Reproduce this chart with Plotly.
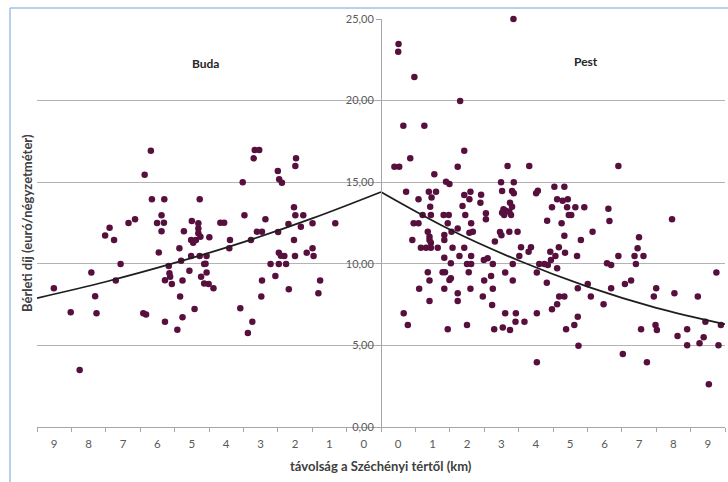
import plotly.graph_objects as go

# Buda side (negative axis positions), rent in euro/m2
buda_x = [-6.69, -6.87, -6.66, -7.34, -7.15, -7.89, -8.02, -7.76, -6.51, -6.46,
          -7.57, -8.42, -7.71, -9.51, -8.31, -9.02, -8.27, -6.91, -6.83, -8.76,
          -3.67, -3.54, -3.70, -4.02, -6.30, -5.27, -6.38, -6.31, -6.38, -5.73,
          -5.50, -5.31, -5.31, -5.31, -5.25, -5.52, -5.46, -5.38, -4.99, -4.67,
          -4.56, -4.39, -4.41, -3.97, -3.78, -3.61, -3.46, -3.36, -5.86, -6.17,
          -6.15, -6.13, -5.81, -5.52, -5.27, -5.07, -5.14, -5.10, -6.28, -6.08,
          -5.77, -5.57, -5.23, -5.07, -5.14, -5.01, -4.87, -5.84, -5.42, -5.77,
          -6.28, -5.92, -4.09, -3.46, -3.48, -3.74, -3.87, -2.47, -2.49, -3.00,
          -2.96, -2.88, -2.53, -2.49, -2.26, -2.69, -2.33, -1.99, -1.33, -2.99,
          -2.53, -2.97, -2.91, -2.81, -2.50, -2.16, -1.99, -1.96, -3.21, -2.97,
          -2.76, -3.07, -2.68, -1.77, -1.82]
buda_y = [16.93, 15.46, 13.95, 12.50, 12.73, 12.21, 11.74, 11.46, 12.50, 10.70,
          9.99, 9.46, 8.97, 8.50, 8.01, 7.03, 6.97, 6.97, 6.90, 3.49,
          16.97, 16.97, 16.46, 14.99, 13.95, 13.95, 12.97, 12.52, 11.99, 11.99,
          12.62, 12.48, 12.17, 11.87, 11.66, 11.46, 11.29, 11.46, 11.62, 12.52,
          12.52, 11.46, 10.95, 12.97, 11.46, 11.97, 11.97, 12.73, 10.95, 9.87,
          9.42, 9.21, 10.19, 10.48, 10.48, 10.48, 9.99, 10.00, 8.99, 8.76,
          8.97, 9.58, 9.21, 9.46, 8.80, 8.76, 8.50, 7.99, 7.23, 6.72,
          6.45, 5.96, 7.27, 8.97, 7.99, 6.45, 5.76, 16.46, 15.99, 15.69,
          15.18, 14.97, 13.46, 12.97, 12.97, 12.44, 12.27, 12.48, 12.48, 11.95,
          11.46, 10.68, 10.50, 10.48, 10.48, 10.68, 10.95, 10.48, 9.99, 9.99,
          9.99, 9.25, 8.44, 8.97, 8.19]

# Pest side (positive axis positions)
pest_x = [0.51, 0.50, 0.97, 2.30, 0.65, 1.26, 2.42, 0.85, 0.39, 0.53,
          2.23, 1.55, 1.89, 1.99, 3.85, 0.73, 1.09, 1.39, 1.60, 1.47,
          1.43, 2.42, 2.60, 2.57, 2.91, 2.89, 2.37, 1.21, 1.45, 1.82,
          1.97, 2.45, 3.05, 3.05, 0.95, 1.09, 1.94, 1.36, 1.41, 1.84,
          1.84, 2.05, 2.23, 2.62, 2.57, 2.67, 0.91, 1.41, 1.45, 1.16,
          1.31, 1.45, 1.65, 2.08, 2.42, 1.84, 2.28, 2.03, 2.50, 2.62,
          2.62, 2.99, 3.10, 3.25, 3.31, 1.36, 1.79, 1.86, 1.41, 1.99,
          2.03, 1.11, 1.84, 2.23, 2.23, 2.60, 3.00, 3.20, 2.96, 3.25,
          1.41, 3.23, 0.66, 0.78, 1.94, 2.50, 3.29, 2.55, 3.68, 4.31,
          3.49, 3.86, 3.52, 3.81, 3.86, 4.51, 4.56, 5.04, 5.33, 5.12,
          5.28, 5.43, 3.75, 3.81, 3.56, 3.63, 3.73, 3.52, 3.78, 3.58,
          4.97, 5.41, 5.65, 5.91, 5.46, 5.53, 4.83, 5.25, 6.61, 6.64,
          3.46, 3.50, 3.73, 3.97, 5.33, 5.81, 6.15, 4.07, 4.29, 4.36,
          4.02, 4.92, 5.17, 5.35, 5.07, 5.70, 4.94, 4.60, 4.75, 4.85,
          3.83, 5.12, 6.57, 6.69, 3.61, 4.53, 3.83, 4.82, 5.72, 6.01,
          6.69, 6.10, 5.18, 5.33, 5.12, 4.97, 6.47, 3.61, 3.92, 4.53,
          3.91, 4.17, 3.54, 3.75, 5.72, 5.62, 5.38, 5.74, 4.53, 6.90,
          8.46, 7.50, 7.46, 6.90, 7.37, 7.63, 7.41, 9.75, 7.09, 7.27,
          8.00, 7.93, 8.53, 9.21, 9.43, 9.88, 7.56, 7.98, 8.02, 8.90,
          8.62, 9.38, 8.90, 9.26, 9.81, 7.03, 7.73, 9.53]
pest_y = [23.47, 23.00, 21.45, 19.98, 18.46, 18.46, 16.93, 16.46, 15.95, 15.95,
          15.95, 15.48, 15.03, 14.89, 25.00, 14.42, 13.95, 14.42, 14.42, 14.07,
          13.50, 14.22, 14.42, 13.95, 14.23, 13.74, 13.54, 12.99, 12.99, 12.99,
          12.99, 12.99, 13.09, 12.73, 12.48, 12.48, 12.48, 11.97, 11.66, 11.76,
          11.46, 11.97, 12.17, 12.48, 11.91, 11.97, 11.46, 11.46, 11.29, 10.99,
          10.99, 10.99, 10.99, 10.99, 10.99, 10.37, 10.48, 10.03, 9.99, 9.99,
          10.48, 10.23, 10.34, 9.99, 11.36, 9.48, 9.48, 9.48, 8.97, 9.01,
          9.11, 8.47, 8.47, 8.19, 7.72, 8.47, 8.97, 9.25, 7.99, 8.47,
          7.72, 7.48, 6.97, 6.25, 5.99, 6.25, 5.99, 9.48, 15.99, 15.99,
          14.99, 14.99, 14.46, 14.46, 14.32, 14.32, 14.48, 14.72, 14.72, 13.95,
          13.87, 13.95, 13.74, 13.50, 13.34, 13.25, 13.19, 13.13, 12.99, 12.99,
          13.46, 13.46, 13.46, 13.46, 12.99, 12.99, 12.64, 12.48, 13.38, 12.62,
          11.95, 11.75, 11.97, 11.97, 11.72, 11.46, 11.97, 11.01, 10.74, 11.01,
          10.48, 10.74, 11.01, 10.68, 10.48, 10.48, 10.23, 9.99, 9.99, 9.93,
          9.99, 9.72, 10.03, 9.93, 9.46, 9.46, 8.97, 8.84, 8.50, 8.76,
          8.50, 7.99, 7.99, 7.99, 7.52, 7.21, 7.52, 6.97, 6.97, 6.97,
          6.45, 6.45, 6.09, 5.94, 6.76, 6.25, 5.99, 4.98, 3.96, 15.99,
          12.73, 11.62, 10.95, 10.48, 10.48, 10.48, 9.99, 9.46, 8.76, 8.97,
          8.50, 7.99, 8.19, 7.99, 6.45, 6.25, 5.99, 6.25, 5.94, 5.99,
          5.58, 5.50, 5.01, 5.13, 5.01, 4.47, 3.96, 2.62]

# Trend lines
buda_trend_x = [-10, -8, -6, -4, -2, 0]
buda_trend_y = [7.90, 8.90, 10.05, 11.33, 12.78, 14.40]
pest_trend_x = [0, 2, 4, 6, 8, 10]
pest_trend_y = [14.40, 12.10, 10.20, 8.60, 7.30, 6.30]

buda_tick_labels = [9, 8, 7, 6, 5, 4, 3, 2, 1, 0]
pest_tick_labels = [0, 1, 2, 3, 4, 5, 6, 7, 8, 9]
y_ticks = [0, 5, 10, 15, 20, 25]

FONT = "Lato, 'Open Sans', sans-serif"
DOT = "#57103e"

fig = go.Figure()
fig.add_trace(go.Scatter(x=buda_x, y=buda_y, mode="markers",
                         marker=dict(size=6.5, color=DOT), cliponaxis=False,
                         showlegend=False))
fig.add_trace(go.Scatter(x=pest_x, y=pest_y, mode="markers",
                         marker=dict(size=6.5, color=DOT), cliponaxis=False,
                         showlegend=False))
fig.add_trace(go.Scatter(x=buda_trend_x, y=buda_trend_y, mode="lines",
                         line=dict(color="#1e1e1e", width=1.8, shape="spline"),
                         showlegend=False))
fig.add_trace(go.Scatter(x=pest_trend_x, y=pest_trend_y, mode="lines",
                         line=dict(color="#1e1e1e", width=1.8, shape="spline"),
                         showlegend=False))

tickvals = [-(d + 0.5) for d in buda_tick_labels] + [d + 0.5 for d in pest_tick_labels]
ticktext = [str(d) for d in buda_tick_labels] + [str(d) for d in pest_tick_labels]

fig.update_layout(
    width=728, height=482,
    margin=dict(l=37, r=3, t=19, b=55),
    paper_bgcolor="white", plot_bgcolor="white",
    separators=",.",
    font=dict(family=FONT, size=11, color="#595959"),
    xaxis=dict(range=[-10, 10], showgrid=False, zeroline=False,
               showline=True, linecolor="#a6a6a6", linewidth=1,
               tickmode="array", tickvals=tickvals, ticktext=ticktext,
               ticks="", ticklabelstandoff=6,
               tickfont=dict(size=11.5, color="#595959"),
               minor=dict(tickmode="array", tickvals=list(range(-10, 11)),
                          ticks="outside", ticklen=4, tickcolor="#a6a6a6",
                          showgrid=False)),
    yaxis=dict(range=[0, 25], anchor="free", position=0.5,
               tickmode="array", tickvals=y_ticks, tickformat=".2f",
               showgrid=True, gridcolor="#b3b3b3", gridwidth=1,
               zeroline=False, showline=True, linecolor="#a6a6a6", linewidth=1,
               ticks="outside", ticklen=5, tickcolor="#a6a6a6",
               tickfont=dict(size=11, color="#595959")),
    annotations=[
        dict(text="<b>Buda</b>", x=-5.1, y=22.3, xref="x", yref="y",
             showarrow=False, font=dict(size=12, color="#262626", family=FONT)),
        dict(text="<b>Pest</b>", x=5.95, y=22.4, xref="x", yref="y",
             showarrow=False, font=dict(size=12, color="#262626", family=FONT)),
        dict(text="<b>távolság a Széchényi tértől (km)</b>", x=0.5, y=-0.096,
             xref="paper", yref="paper", xanchor="center", yanchor="middle",
             showarrow=False, font=dict(size=13, color="#404040", family=FONT)),
        dict(text="<b>Bérleti díj (euró/négyzetméter)</b>", x=-0.0145, y=0.5,
             xref="paper", yref="paper", xanchor="center", yanchor="middle",
             textangle=-90, showarrow=False,
             font=dict(size=13, color="#404040", family=FONT)),
    ],
    shapes=[
        dict(type="line", xref="paper", yref="paper",
             x0=-0.0392, x1=1.1, y0=1.027, y1=1.027,
             line=dict(color="#9cc2e5", width=1.5), layer="above"),
        dict(type="line", xref="paper", yref="paper",
             x0=-0.0392, x1=-0.0392, y0=-0.2, y1=1.027,
             line=dict(color="#9cc2e5", width=1.5), layer="above"),
    ],
)

fig.write_html("out.html",
               config={"displayModeBar": False},
               post_script="document.body.style.margin='0px';"
                           "document.body.style.overflow='hidden';")
